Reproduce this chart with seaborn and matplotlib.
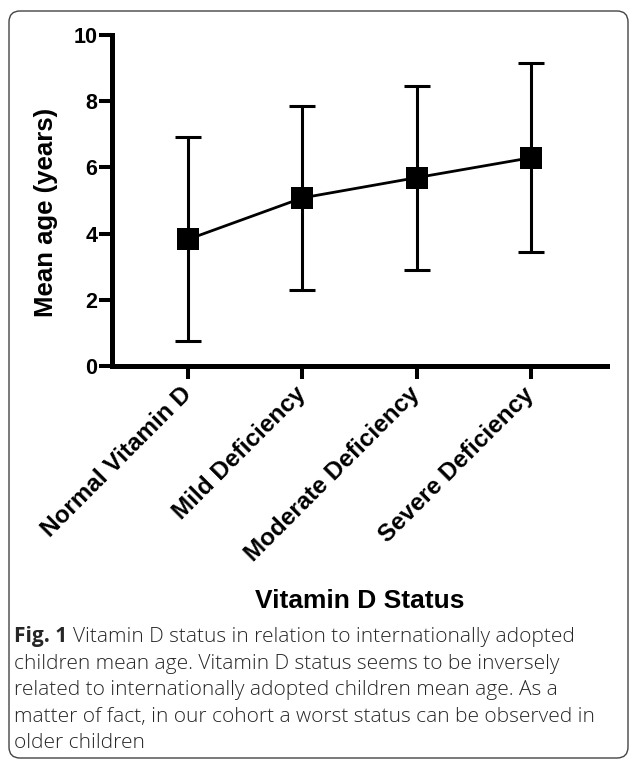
import numpy as np
import pandas as pd
import matplotlib
matplotlib.use("Agg")
import matplotlib.pyplot as plt
import seaborn as sns
from matplotlib.patches import FancyBboxPatch

# -------------------------------
# Data
# -------------------------------
categories = ["Normal Vitamin D", "Mild Deficiency", "Moderate Deficiency", "Severe Deficiency"]
mean_age = [3.83, 5.08, 5.69, 6.29]
sd_age = [3.08, 2.79, 2.78, 2.85]
y_ticks = [0, 2, 4, 6, 8, 10]

caption_first = "Vitamin D status in relation to internationally adopted"
caption_lines = [
    "children mean age. Vitamin D status seems to be inversely",
    "related to internationally adopted children mean age. As a",
    "matter of fact, in our cohort a worst status can be observed in",
    "older children",
]

df = pd.DataFrame({"status": categories, "age": mean_age, "sd": sd_age})

# -------------------------------
# Style
# -------------------------------
sns.set_theme(style="white")
plt.rcParams["font.family"] = ["Liberation Sans", "DejaVu Sans"]
cap_font = "Open Sans"

W, H = 629, 761
fig = plt.figure(figsize=(W / 100, H / 100), dpi=100)
ax = fig.add_axes([112 / W, 1 - 366 / H, 495 / W, 331 / H])

# -------------------------------
# Plot: error bars + line with square markers
# -------------------------------
ax.errorbar(
    np.arange(len(df)), df["age"], yerr=df["sd"],
    fmt="none", ecolor="black", elinewidth=2.2,
    capsize=9.4, capthick=2.2, zorder=2,
)
sns.pointplot(
    data=df, x="status", y="age",
    color="black", markers="s", errorbar=None,
    markersize=16.5, linewidth=2.0, markeredgewidth=0,
    ax=ax, zorder=3,
)

ax.set_xlim(-0.67, 3.67)
ax.set_ylim(0, 10)
ax.set_yticks(y_ticks)
ax.set_yticklabels([str(t) for t in y_ticks], fontsize=15.5, fontweight="bold")
ax.set_xticks(range(len(categories)))
ax.set_xticklabels(categories, fontsize=17.5, fontweight="bold")
plt.setp(ax.get_xticklabels(), rotation=45, ha="right", va="center", rotation_mode="anchor")

sns.despine(ax=ax)
for side in ["left", "bottom"]:
    ax.spines[side].set_linewidth(3.6)
    ax.spines[side].set_color("black")
ax.tick_params(axis="both", bottom=True, left=True, direction="out",
               length=9.4, width=2.9, color="black", labelcolor="black")
ax.tick_params(axis="y", pad=1)
ax.tick_params(axis="x", pad=8.5)

ax.set_xlabel("")
ax.set_ylabel("Mean age (years)", fontsize=18.5, fontweight="bold", color="black")
ax.yaxis.set_label_coords(-0.109, 0.465)

fig.text(360 / W, 1 - 608 / H, "Vitamin D Status", ha="center", va="baseline",
         fontsize=19, fontweight="bold", color="black")

# -------------------------------
# Caption
# -------------------------------
cap_size = 15
cap_x = 14.5 / W
cap_color = "#262626"
base_y = [642, 668.6, 695.2, 721.8, 748.4]
fig_lbl = fig.text(cap_x, 1 - base_y[0] / H, "Fig. 1", ha="left", va="baseline",
                   fontsize=cap_size, fontweight="bold", family=cap_font, color=cap_color)
renderer = fig.canvas.get_renderer()
bb = fig_lbl.get_window_extent(renderer)
fig.text(bb.x1 / W + 5 / W, 1 - base_y[0] / H, caption_first, ha="left", va="baseline",
         fontsize=cap_size, fontweight="light", family=cap_font, color=cap_color)
for line, yb in zip(caption_lines, base_y[1:]):
    fig.text(cap_x, 1 - yb / H, line, ha="left", va="baseline",
             fontsize=cap_size, fontweight="light", family=cap_font, color=cap_color)

# -------------------------------
# Rounded frame
# -------------------------------
frame = FancyBboxPatch((9 / 100, (H - 758) / 100), (628 - 9) / 100, (758 - 11) / 100,
                       boxstyle="round,pad=0,rounding_size=0.11",
                       transform=fig.dpi_scale_trans, fill=False,
                       edgecolor="#444444", linewidth=1.0)
fig.patches.append(frame)

fig.savefig("out.png", dpi=100)
plt.close(fig)
